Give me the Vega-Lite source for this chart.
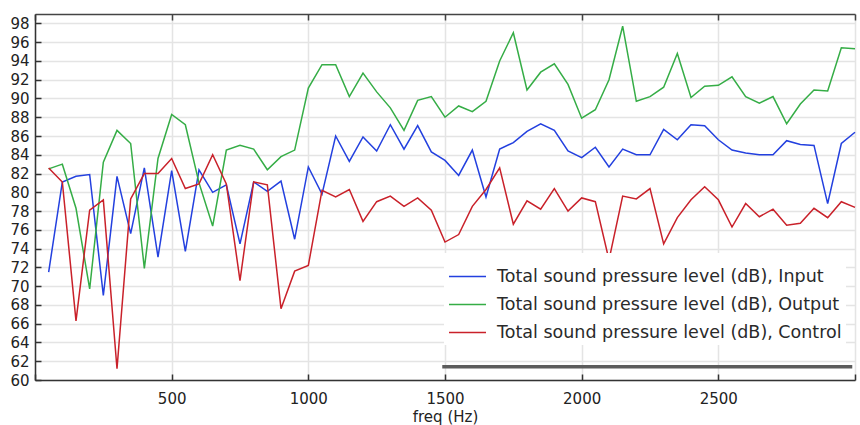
{
  "$schema": "https://vega.github.io/schema/vega-lite/v6.json",
  "width": 820,
  "height": 366,
  "autosize": {"type": "none"},
  "padding": {"left": 35, "top": 14, "right": 5, "bottom": 45},
  "background": "white",
  "config": {"view": {"stroke": null}, "font": "DejaVu Sans"},
  "layer": [
    {
      "data": {
        "values": [
          {"freq": 50, "Input": 71.5, "Output": 82.5, "Control": 82.6},
          {"freq": 100, "Input": 81.1, "Output": 83.0, "Control": 81.1},
          {"freq": 150, "Input": 81.7, "Output": 78.3, "Control": 66.3},
          {"freq": 200, "Input": 81.9, "Output": 69.7, "Control": 78.1},
          {"freq": 250, "Input": 69.0, "Output": 83.2, "Control": 79.2},
          {"freq": 300, "Input": 81.7, "Output": 86.6, "Control": 61.2},
          {"freq": 350, "Input": 75.6, "Output": 85.2, "Control": 79.3},
          {"freq": 400, "Input": 82.6, "Output": 71.9, "Control": 82.0},
          {"freq": 450, "Input": 73.1, "Output": 83.6, "Control": 82.0},
          {"freq": 500, "Input": 82.3, "Output": 88.3, "Control": 83.6},
          {"freq": 550, "Input": 73.7, "Output": 87.2, "Control": 80.4},
          {"freq": 600, "Input": 82.4, "Output": 81.0, "Control": 80.9},
          {"freq": 650, "Input": 80.0, "Output": 76.4, "Control": 84.0},
          {"freq": 700, "Input": 80.8, "Output": 84.5, "Control": 80.9},
          {"freq": 750, "Input": 74.5, "Output": 85.0, "Control": 70.6},
          {"freq": 800, "Input": 81.1, "Output": 84.6, "Control": 81.1},
          {"freq": 850, "Input": 80.1, "Output": 82.4, "Control": 80.8},
          {"freq": 900, "Input": 81.2, "Output": 83.8, "Control": 67.6},
          {"freq": 950, "Input": 75.0, "Output": 84.5, "Control": 71.6},
          {"freq": 1000, "Input": 82.7, "Output": 91.1, "Control": 72.2},
          {"freq": 1050, "Input": 79.8, "Output": 93.6, "Control": 80.2},
          {"freq": 1100, "Input": 86.0, "Output": 93.6, "Control": 79.5},
          {"freq": 1150, "Input": 83.3, "Output": 90.2, "Control": 80.3},
          {"freq": 1200, "Input": 85.9, "Output": 92.7, "Control": 76.9},
          {"freq": 1250, "Input": 84.4, "Output": 90.7, "Control": 79.0},
          {"freq": 1300, "Input": 87.2, "Output": 89.0, "Control": 79.6},
          {"freq": 1350, "Input": 84.6, "Output": 86.6, "Control": 78.5},
          {"freq": 1400, "Input": 87.1, "Output": 89.8, "Control": 79.4},
          {"freq": 1450, "Input": 84.3, "Output": 90.2, "Control": 78.1},
          {"freq": 1500, "Input": 83.4, "Output": 88.0, "Control": 74.7},
          {"freq": 1550, "Input": 81.8, "Output": 89.2, "Control": 75.5},
          {"freq": 1600, "Input": 84.5, "Output": 88.6, "Control": 78.5},
          {"freq": 1650, "Input": 79.5, "Output": 89.7, "Control": 80.3},
          {"freq": 1700, "Input": 84.6, "Output": 94.0, "Control": 82.6},
          {"freq": 1750, "Input": 85.3, "Output": 97.0, "Control": 76.6},
          {"freq": 1800, "Input": 86.5, "Output": 90.9, "Control": 79.1},
          {"freq": 1850, "Input": 87.3, "Output": 92.8, "Control": 78.2},
          {"freq": 1900, "Input": 86.6, "Output": 93.7, "Control": 80.4},
          {"freq": 1950, "Input": 84.4, "Output": 91.5, "Control": 78.0},
          {"freq": 2000, "Input": 83.7, "Output": 87.9, "Control": 79.4},
          {"freq": 2050, "Input": 84.8, "Output": 88.8, "Control": 79.0},
          {"freq": 2100, "Input": 82.7, "Output": 92.0, "Control": 72.8},
          {"freq": 2150, "Input": 84.6, "Output": 97.7, "Control": 79.6},
          {"freq": 2200, "Input": 84.0, "Output": 89.7, "Control": 79.3},
          {"freq": 2250, "Input": 84.0, "Output": 90.2, "Control": 80.4},
          {"freq": 2300, "Input": 86.7, "Output": 91.2, "Control": 74.5},
          {"freq": 2350, "Input": 85.6, "Output": 94.8, "Control": 77.3},
          {"freq": 2400, "Input": 87.2, "Output": 90.1, "Control": 79.2},
          {"freq": 2450, "Input": 87.1, "Output": 91.3, "Control": 80.6},
          {"freq": 2500, "Input": 85.6, "Output": 91.4, "Control": 79.2},
          {"freq": 2550, "Input": 84.5, "Output": 92.3, "Control": 76.3},
          {"freq": 2600, "Input": 84.2, "Output": 90.2, "Control": 78.8},
          {"freq": 2650, "Input": 84.0, "Output": 89.5, "Control": 77.4},
          {"freq": 2700, "Input": 84.0, "Output": 90.2, "Control": 78.2},
          {"freq": 2750, "Input": 85.5, "Output": 87.3, "Control": 76.5},
          {"freq": 2800, "Input": 85.1, "Output": 89.4, "Control": 76.7},
          {"freq": 2850, "Input": 85.0, "Output": 90.9, "Control": 78.3},
          {"freq": 2900, "Input": 78.8, "Output": 90.8, "Control": 77.3},
          {"freq": 2950, "Input": 85.2, "Output": 95.4, "Control": 79.0},
          {"freq": 3000, "Input": 86.4, "Output": 95.3, "Control": 78.4}
        ]
      },
      "transform": [{"fold": ["Input", "Output", "Control"], "as": ["series", "spl"]}],
      "mark": {"type": "line", "strokeWidth": 1.5},
      "encoding": {
        "x": {
          "field": "freq",
          "type": "quantitative",
          "scale": {"domain": [0, 3000], "nice": false},
          "axis": {
            "orient": "bottom",
            "values": [0, 500, 1000, 1500, 2000, 2500, 3000],
            "labelExpr": "datum.value == 0 || datum.value == 3000 ? '' : datum.label",
            "format": "d",
            "title": "freq (Hz)",
            "titleFontSize": 15,
            "titleFontWeight": "normal",
            "titleColor": "#222",
            "titlePadding": 3,
            "labelFontSize": 15,
            "labelColor": "#222",
            "labelPadding": 17,
            "domainColor": "#333",
            "domainWidth": 1.5,
            "tickColor": "#333",
            "tickSize": -6,
            "tickWidth": 1.5,
            "grid": true,
            "gridColor": "#e4e4e4",
            "gridWidth": 1.5
          }
        },
        "y": {
          "field": "spl",
          "type": "quantitative",
          "scale": {"domain": [60, 99], "nice": false, "zero": false},
          "axis": {
            "values": [60, 62, 64, 66, 68, 70, 72, 74, 76, 78, 80, 82, 84, 86, 88, 90, 92, 94, 96, 98],
            "title": null,
            "labelFontSize": 15,
            "labelColor": "#222",
            "labelPadding": 12,
            "domainColor": "#333",
            "domainWidth": 1.5,
            "tickColor": "#333",
            "tickSize": -6,
            "tickWidth": 1.5,
            "grid": true,
            "gridColor": "#e4e4e4",
            "gridWidth": 1.5
          }
        },
        "color": {
          "field": "series",
          "type": "nominal",
          "sort": ["Input", "Output", "Control"],
          "scale": {"domain": ["Input", "Output", "Control"], "range": ["#2340df", "#35ad46", "#c9212a"]},
          "legend": {
            "orient": "none",
            "legendX": 409,
            "legendY": 239,
            "title": null,
            "fillColor": "white",
            "padding": 4,
            "symbolType": "stroke",
            "symbolSize": 1369,
            "symbolStrokeWidth": 1.5,
            "rowPadding": -0.5,
            "labelFontSize": 17.5,
            "labelColor": "#2a2a2a",
            "labelOffset": 10,
            "labelLimit": 0,
            "labelExpr": "'Total sound pressure level (dB), ' + datum.label"
          }
        }
      }
    },
    {
      "data": {"values": [{}]},
      "mark": {"type": "rule", "color": "#5c5c5c", "strokeWidth": 3.5},
      "encoding": {
        "x": {
          "datum": 1490,
          "type": "quantitative",
          "scale": {"domain": [0, 3000], "nice": false},
          "axis": {
            "orient": "top",
            "values": [0, 500, 1000, 1500, 2000, 2500, 3000],
            "labels": false,
            "title": null,
            "grid": false,
            "domainColor": "#444",
            "domainWidth": 1.5,
            "tickColor": "#444",
            "tickSize": -6,
            "tickWidth": 1.5
          }
        },
        "x2": {"datum": 2990},
        "y": {"datum": 61.4, "type": "quantitative", "scale": {"domain": [60, 99], "nice": false, "zero": false}, "axis": null}
      }
    }
  ],
  "resolve": {"axis": {"x": "independent", "y": "independent"}}
}
